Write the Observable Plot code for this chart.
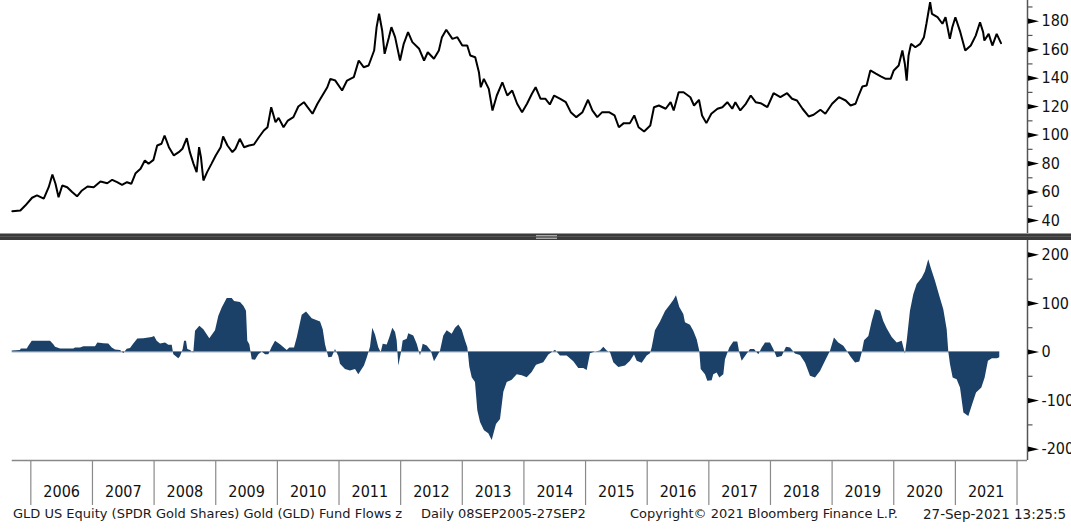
<!DOCTYPE html>
<html>
<head>
<meta charset="utf-8">
<script src="https://cdn.jsdelivr.net/npm/d3@7"></script>
<script src="https://cdn.jsdelivr.net/npm/@observablehq/plot@0.6"></script>
<style>
  html, body { margin: 0; padding: 0; background: #fff; }
  #wrap { position: relative; width: 1071px; height: 532px; overflow: hidden; background: #fff;
          font-family: "DejaVu Sans Condensed", "DejaVu Sans", sans-serif; }
  #topChart { position: absolute; left: 0; top: 0; }
  #bottomChart { position: absolute; left: 0; top: 240px; }
  #divider { position: absolute; left: 0; top: 233px; width: 1071px; height: 7px;
             background: #3b3b3b; border-top: 1px solid #9a9a9a; box-sizing: border-box; }
  #divider .mid { position: absolute; left: 0; right: 0; top: 2px; height: 1px; background: #555; }
  #divider .grip { position: absolute; left: 536px; width: 21px; top: 1px; height: 4px;
                   border-top: 1px solid #a8a8a8; border-bottom: 1px solid #a8a8a8; background: #6a6a6a; box-sizing: border-box; }
  .cap { position: absolute; top: 506px; font-family: "DejaVu Sans", sans-serif; font-size: 13px; line-height: 16px; color: #1a1a1a; white-space: nowrap; }
</style>
</head>
<body>
<div id="wrap">
  <div id="topChart"></div>
  <div id="divider"><div class="mid"></div><div class="grip"></div></div>
  <div id="bottomChart"></div>
  <div class="cap" style="left:13px">GLD US Equity (SPDR Gold Shares) Gold (GLD) Fund Flows z</div>
  <div class="cap" style="left:421px">Daily 08SEP2005-27SEP2</div>
  <div class="cap" style="left:630px">Copyright© 2021 Bloomberg Finance L.P.</div>
  <div class="cap" style="left:923px; font-size:13.5px">27-Sep-2021 13:25:5</div>
</div>
<script>
// ---- Data (decimal years) ----
const goldYear = [
  2005.70,2005.83,2005.91,2006.02,2006.10,2006.21,2006.29,2006.35,2006.40,2006.45,
  2006.51,2006.59,2006.67,2006.75,2006.83,2006.92,2007.02,2007.13,2007.24,2007.32,
  2007.40,2007.48,2007.56,2007.63,2007.70,2007.78,2007.85,2007.91,2007.99,2008.05,
  2008.12,2008.17,2008.24,2008.32,2008.40,2008.46,2008.53,2008.58,2008.64,2008.69,
  2008.73,2008.76,2008.80,2008.86,2008.93,2009.00,2009.08,2009.12,2009.19,2009.27,
  2009.32,2009.39,2009.46,2009.54,2009.62,2009.70,2009.78,2009.84,2009.90,2009.97,
  2010.02,2010.10,2010.17,2010.26,2010.34,2010.43,2010.49,2010.57,2010.65,2010.73,
  2010.81,2010.86,2010.94,2011.05,2011.13,2011.24,2011.32,2011.40,2011.48,2011.57,
  2011.61,2011.65,2011.70,2011.74,2011.81,2011.85,2011.91,2011.99,2012.05,2012.12,
  2012.19,2012.30,2012.38,2012.44,2012.54,2012.62,2012.67,2012.74,2012.84,2012.92,
  2013.00,2013.08,2013.13,2013.21,2013.27,2013.30,2013.35,2013.43,2013.49,2013.56,
  2013.65,2013.73,2013.81,2013.89,2013.97,2014.05,2014.13,2014.19,2014.27,2014.35,
  2014.42,2014.49,2014.59,2014.68,2014.76,2014.85,2014.95,2015.04,2015.11,2015.19,
  2015.27,2015.38,2015.47,2015.54,2015.62,2015.72,2015.79,2015.86,2015.95,2016.05,
  2016.11,2016.19,2016.30,2016.38,2016.43,2016.51,2016.59,2016.70,2016.76,2016.84,
  2016.89,2016.96,2017.04,2017.14,2017.22,2017.30,2017.38,2017.43,2017.51,2017.60,
  2017.68,2017.76,2017.84,2017.95,2018.05,2018.16,2018.27,2018.35,2018.43,2018.52,
  2018.62,2018.70,2018.81,2018.89,2019.00,2019.11,2019.22,2019.30,2019.38,2019.43,
  2019.49,2019.56,2019.62,2019.71,2019.79,2019.87,2019.95,2020.00,2020.08,2020.14,
  2020.18,2020.21,2020.24,2020.28,2020.35,2020.43,2020.49,2020.53,2020.59,2020.62,
  2020.71,2020.79,2020.84,2020.91,2020.95,2021.00,2021.08,2021.16,2021.25,2021.33,
  2021.40,2021.45,2021.47,2021.54,2021.60,2021.67,2021.74
];
const goldPrice = [
  46.5,47,50.5,56,57.6,55.3,63.4,72.3,65.8,56.4,
  64.6,63.4,60,57,61.1,63.9,63.4,67.4,66.2,68.6,
  66.9,65,66.9,65.8,73.2,76.3,82.2,79.8,82.6,92.7,
  93.9,99.7,91.5,85.7,88,90.4,97.8,88,79.8,74,
  91.5,84.5,68.1,74,79.8,85.7,91.5,99,92.7,88,
  90.4,97.4,91.5,92.7,93.4,98.5,103.2,105.5,119.6,109,
  112.1,105.5,110.2,112.6,120.1,123.1,119.6,115,122,127.8,
  133.6,139.5,138.3,131.3,138.3,140.7,152.4,147.7,148.9,159.4,
  175.8,185.2,173.5,157.1,168.8,175.8,168.8,152.4,164.1,172.3,
  165.3,160.6,152.4,158.2,153.6,159.4,168.8,174,167.6,168.8,
  162.9,162.9,155.9,154.7,144.2,133.6,139.5,132.5,117.3,127.8,
  137.1,127.8,131.3,122,116.1,122,129,133.6,125.5,125.5,
  121.5,127.8,125.5,123.1,116.1,112.6,116.1,124.8,117.3,112.6,
  116.1,116.1,113.8,105.5,108.4,108.4,113.8,105.5,102.5,106.7,
  119.6,120.8,118.5,123.1,117.3,130.1,130.1,126.6,120.8,124.8,
  113.8,108.4,115,118.5,119.6,123.1,118.5,123.1,117.3,122,
  127.8,123.1,122.4,119.6,129.4,126.6,129.4,125.5,124.3,118.5,
  113.1,114.3,117.8,115,122,126.6,124.3,120.8,122,127.8,
  134.1,134.8,145.4,143.1,141.2,139.5,139.5,145.4,148.9,159.4,
  150.1,138.3,155.9,164.1,161.7,164.1,168.8,178.2,193.3,185.2,
  182.8,178.2,182.8,167.6,175.8,182.8,172.3,159.4,162.9,169.9,
  179.3,172.3,166.4,171.1,162.9,171.1,164.6
];
const flowYear = [
  2005.698,2005.833,2005.844,2005.942,2005.968,2006.023,2006.320,2006.373,2006.401,2006.482,
  2006.698,2006.725,2006.806,2006.860,2007.050,2007.087,2007.184,2007.265,2007.321,2007.374,
  2007.455,2007.509,2007.564,2007.617,2007.671,2007.736,2007.833,2007.914,2007.969,2008.007,
  2008.050,2008.104,2008.185,2008.239,2008.294,2008.320,2008.401,2008.429,2008.472,2008.494,
  2008.526,2008.547,2008.591,2008.644,2008.672,2008.742,2008.807,2008.904,2008.996,2009.050,
  2009.105,2009.186,2009.267,2009.305,2009.402,2009.456,2009.499,2009.520,2009.553,2009.592,
  2009.645,2009.699,2009.754,2009.808,2009.861,2009.916,2009.970,2010.051,2010.160,2010.202,
  2010.278,2010.322,2010.403,2010.473,2010.565,2010.700,2010.744,2010.781,2010.835,2010.890,
  2010.943,2010.997,2011.024,2011.105,2011.186,2011.268,2011.321,2011.376,2011.413,2011.457,
  2011.511,2011.548,2011.592,2011.645,2011.684,2011.717,2011.782,2011.824,2011.873,2011.917,
  2011.944,2011.970,2012.009,2012.041,2012.106,2012.132,2012.213,2012.269,2012.322,2012.366,
  2012.431,2012.496,2012.549,2012.603,2012.647,2012.700,2012.755,2012.836,2012.890,2012.944,
  2012.999,2013.052,2013.090,2013.122,2013.161,2013.214,2013.252,2013.296,2013.360,2013.430,
  2013.485,2013.555,2013.620,2013.674,2013.729,2013.810,2013.891,2013.972,2014.053,2014.134,
  2014.204,2014.322,2014.404,2014.512,2014.593,2014.702,2014.809,2014.890,2014.971,2015.026,
  2015.080,2015.161,2015.242,2015.296,2015.351,2015.405,2015.458,2015.539,2015.648,2015.729,
  2015.794,2015.838,2015.919,2016.000,2016.053,2016.081,2016.134,2016.216,2016.297,2016.378,
  2016.431,2016.475,2016.529,2016.594,2016.621,2016.702,2016.756,2016.811,2016.853,2016.876,
  2016.946,2016.983,2017.054,2017.080,2017.135,2017.178,2017.243,2017.270,2017.340,2017.405,
  2017.470,2017.502,2017.541,2017.595,2017.676,2017.741,2017.811,2017.866,2017.919,2018.000,
  2018.054,2018.109,2018.190,2018.260,2018.325,2018.406,2018.487,2018.568,2018.649,2018.730,
  2018.812,2018.893,2018.974,2019.038,2019.108,2019.190,2019.245,2019.299,2019.380,2019.449,
  2019.488,2019.526,2019.596,2019.651,2019.705,2019.786,2019.838,2019.893,2019.975,2020.056,
  2020.137,2020.190,2020.218,2020.271,2020.325,2020.380,2020.461,2020.514,2020.568,2020.607,
  2020.677,2020.747,2020.812,2020.867,2020.893,2020.921,2020.964,2021.029,2021.083,2021.138,
  2021.218,2021.289,2021.343,2021.429,2021.483,2021.536,2021.600,2021.681,2021.720
];
const flowZ = [
  2,3,6,6,12,22,22,15,10,6,
  6,8,8,11,11,18.5,17,16.5,8,4,
  3,-3,5.5,7,16.5,27,27.5,29,30,32,
  22,16.5,18.5,13.7,13.7,-5.5,-13.7,-9,5,22,
  22,5,3,-2,42.5,53,46,27.5,44,73.4,
  90.6,110,110,104,102,94,84,22,15,-16,
  -17,-5.5,0,-5.5,-5.5,10,22,15,3,8,
  8,29,75.5,82.4,68.6,62,46,15,-12,-11,
  5,-9,-25,-36,-39,-36,-47,-36,-29,-13,
  10,49,35,9,-1.4,16,14.4,29.5,49,40,
  22.6,-29,-4.8,22.6,26,37.7,33,16,-8,16,
  12.4,2,-20,-8,2,33,43.5,36.4,49,55.6,
  44.6,22.6,9,-31,-53,-63,-121,-145,-162,-168,
  -182,-149,-139,-83,-63,-58,-47,-49,-53,-42,
  -27,-22,-6,3.4,-8,-8,-20,-34,-34,-38,
  -3.4,0,2,10,2,-1.4,-22,-32,-29,-19,
  -6,-19,-23,-8,-3.4,9,43.5,62,83.5,97,
  106,116,91.5,77,60,55,42.5,25.4,1.4,-36,
  -46.7,-60,-59,-46.7,-43,-53.5,-46.7,-16,8,20.6,
  20.6,-2,-19,-9,5,5,-5.5,8,18.5,18.5,
  5,-12,-9,9.6,8,-4,-7,-22.6,-50,-53.5,
  -40,-19,1.4,29,18.5,11.7,1.4,-9,-22.6,-20.6,
  -2,23.3,32,63,87,84,63,48,30,18.5,
  22,-4,22,84,118,139,152,165,190,173,
  145.5,114.6,87,46,0,-26,-53.5,-57,-74,-125.6,
  -132.5,-105,-84.4,-74,-53.5,-19,-13.7,-13.7,-12
];
const yearTicks = d3.range(2006, 2023);          // year boundaries
const yearLabels = d3.range(2006, 2022);
const priceTicks = [40, 60, 80, 100, 120, 140, 160, 180];
const priceMinor = [50, 70, 90, 110, 130, 150, 170, 190];
const flowTicks = [-200, -100, 0, 100, 200];
const flowMinor = [-150, -50, 50, 150];

const gold = goldYear.map((t, i) => ({t, v: goldPrice[i]}));
const flows = flowYear.map((t, i) => ({t, v: flowZ[i]}));

const xDomain = [2005.508, 2022.170];
const FONT = '"DejaVu Sans Condensed", "DejaVu Sans", sans-serif';

const tri = {draw(ctx) { ctx.moveTo(0.5, -2.6); ctx.lineTo(11.5, 0); ctx.lineTo(0.5, 2.6); ctx.closePath(); }};
const minorTick = {draw(ctx) { ctx.moveTo(0, 0); ctx.lineTo(5, 0); }};

function rightAxis(major, minor, fmt) {
  return [
    Plot.ruleX([xDomain[1]], {stroke: "#555", strokeWidth: 1.5}),
    Plot.dot(minor, {y: d => d, frameAnchor: "right", symbol: minorTick, stroke: "#555", strokeWidth: 1.2, fill: "none"}),
    Plot.dot(major, {y: d => d, frameAnchor: "right", symbol: tri, fill: "#000", stroke: "none"}),
    Plot.text(major, {y: d => d, frameAnchor: "right", dx: 14, textAnchor: "start", text: fmt, fontSize: 16, fill: "#111"})
  ];
}

const topPlot = Plot.plot({
  width: 1071, height: 233,
  marginLeft: 0, marginRight: 44, marginTop: 0, marginBottom: 0,
  x: {domain: xDomain, axis: null},
  y: {domain: [30.87, 194.54], axis: null},
  style: {fontFamily: FONT, background: "transparent"},
  marks: [
    Plot.line(gold, {x: "t", y: "v", stroke: "#000", strokeWidth: 2, strokeLinejoin: "miter"}),
    ...rightAxis(priceTicks, priceMinor, d => String(d))
  ]
});
document.getElementById("topChart").appendChild(topPlot);

const yMin = -223.3, yMax = 229.5, pxPerUnit = 220 / (yMax - yMin);
const bottomPlot = Plot.plot({
  width: 1071, height: 265,
  marginLeft: 0, marginRight: 44, marginTop: 0, marginBottom: 45,
  x: {domain: xDomain, axis: null},
  y: {domain: [yMin, yMax], axis: null},
  style: {fontFamily: FONT, background: "transparent"},
  marks: [
    Plot.ruleY([0], {x1: flowYear[0], x2: flowYear[flowYear.length - 1], stroke: "#9fb2c8", strokeWidth: 1}),
    Plot.areaY(flows, {x: "t", y: "v", fill: "#1b4168"}),
    Plot.ruleY([yMin], {x1: flowYear[0], x2: xDomain[1], stroke: "#888", strokeWidth: 1.5}),
    Plot.ruleX(yearTicks, {y1: yMin, y2: yMin - 45 / pxPerUnit, stroke: "#8a8a8a", strokeWidth: 1.2}),
    Plot.text(yearLabels, {x: d => d + 0.5, frameAnchor: "bottom", dy: 36, text: d => String(d), fontSize: 16, fill: "#111"}),
    ...rightAxis(flowTicks, flowMinor, d => String(d))
  ]
});
document.getElementById("bottomChart").appendChild(bottomPlot);
</script>
</body>
</html>
